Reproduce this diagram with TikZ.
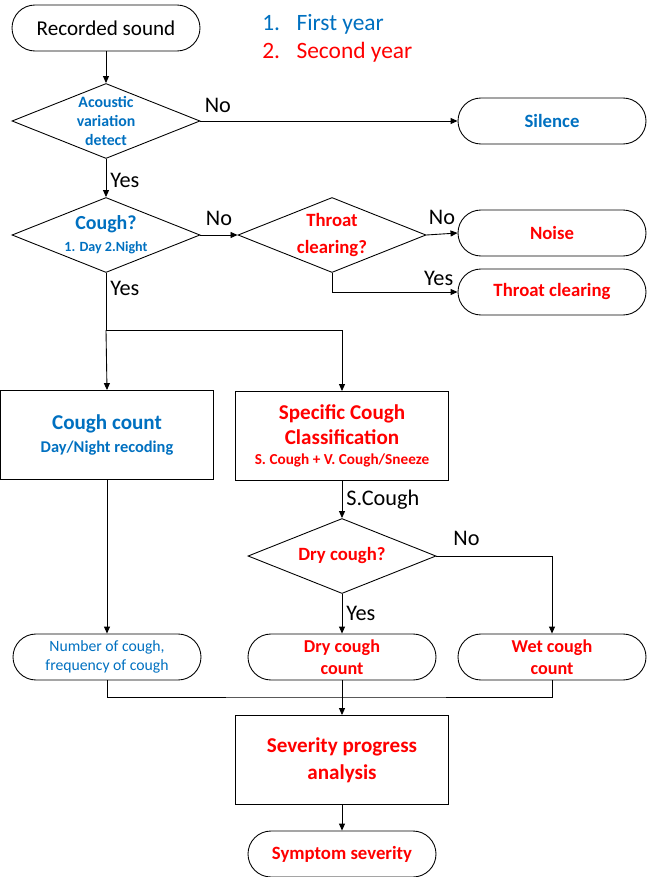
\documentclass[tikz,border=0pt]{standalone}
\usepackage{fontspec}
\setmainfont{Carlito}
\usetikzlibrary{shapes.geometric,arrows.meta}
\definecolor{yrblue}{RGB}{0,112,192}
\definecolor{yrred}{RGB}{255,0,0}
\newcommand{\fsz}[2]{\fontsize{#1}{#2}\selectfont}

\begin{document}
\begin{tikzpicture}[x=0.03cm, y=-0.03cm, line width=0.75pt,
    >={Triangle[length=2.1mm,width=1.8mm]},
    term/.style={draw, rectangle, rounded corners=0.69cm, minimum width=5.64cm, minimum height=1.38cm, align=center, inner sep=1pt},
    decision/.style={draw, diamond, minimum width=5.64cm, minimum height=2.25cm, inner sep=0pt},
    block/.style={draw, rectangle, minimum width=6.4cm, minimum height=2.67cm, align=center},
    lbl/.style={font=\fsz{19}{22}},
    inside/.style={align=center, inner sep=0pt}]
    \useasboundingbox (0,0) rectangle (647,877);

    % legend
    \node[anchor=west, text=yrblue, font=\fsz{20}{24}] (first) at (258,24) {1.\hspace{0.7em}First year};
    \node[anchor=west, text=yrred, font=\fsz{20}{24}] (second) at (258,52) {2.\hspace{0.7em}Second year};

    % boxes
    \node[term, font=\fsz{18}{22}] (rec) at (106,28) {Recorded sound};
    \node[decision, label={[inside, text=yrblue, font=\fsz{13.5}{16}\bfseries]center:Acoustic\\variation\\detect}] (acou) at (106,121) {};
    \node[term, text=yrblue, font=\fsz{16}{19}\bfseries] (sil) at (552,121) {Silence};
    \node[decision, label={[inside, text=yrblue, font=\fsz{17}{22}\bfseries]center:Cough?\\[-3pt]\fsz{12}{14}\bfseries 1. Day 2.Night}] (cough) at (106,235) {};
    \node[decision, label={[inside, text=yrred, font=\fsz{16}{23}\bfseries]center:Throat\\clearing?}] (throat) at (332,235) {};
    \node[term, text=yrred, font=\fsz{16}{19}\bfseries] (noise) at (552,233) {Noise};
    \node[term, text=yrred, font=\fsz{16}{19}\bfseries] (tclr) at (552,292) {Throat clearing};
    \node[block, text=yrblue, font=\fsz{18}{22}\bfseries] (ccount) at (107,435) {Cough count\\[-3pt]\fsz{14}{17}\bfseries Day/Night recoding};
    \node[block, text=yrred, font=\fsz{18}{21}\bfseries] (spec) at (342,436) {Specific Cough\\Classification\\[-4pt]\fsz{13}{17}\bfseries S. Cough + V. Cough/Sneeze};
    \node[decision, label={[inside, text=yrred, font=\fsz{16}{19}\bfseries]center:Dry cough?}] (dry) at (342,556) {};
    \node[term, text=yrblue, font=\fsz{13.4}{16.5}] (num) at (107,657) {Number of cough,\\frequency of cough};
    \node[term, text=yrred, font=\fsz{15.5}{19}\bfseries] (drycnt) at (342,657) {Dry cough\\count};
    \node[term, text=yrred, font=\fsz{15.5}{19}\bfseries] (wetcnt) at (552,657) {Wet cough\\count};
    \node[block, text=yrred, font=\fsz{18}{23}\bfseries] (sev) at (342,760) {Severity progress\\analysis};
    \node[term, text=yrred, font=\fsz{16}{19}\bfseries] (sym) at (342,854) {Symptom severity};

    \coordinate (split) at (106,330);
    \coordinate (merge) at (342,697);

    % connectors
    \draw[->] (rec) -- (acou);
    \draw[->] (acou.east) -- (sil.west) node[lbl, pos=0, anchor=south west, yshift=3pt] {No};
    \draw[->] (acou) -- (cough) node[lbl, midway, right, yshift=-2pt] {Yes};
    \draw[->] (cough.east) -- (throat.west) node[lbl, midway, above, yshift=4pt] {No};
    \draw[->] (throat.east) -- (noise.west) node[lbl, midway, above, yshift=4pt] {No};
    \draw[->] (throat.south) |- (tclr.west) node[lbl, pos=0.925, above, yshift=2pt] {Yes};
    \draw (cough.south) -- (split) node[lbl, pos=0.28, right] {Yes};
    \draw[->] (split) -- (ccount.north);
    \draw[->] (split) -| (spec.north);
    \draw[->] (ccount) -- (num);
    \draw[->] (spec) -- (dry) node[lbl, midway, right] {S.Cough};
    \draw[->] (dry.east) -| (wetcnt.north) node[lbl, pos=0.13, above, yshift=5pt] {No};
    \draw[->] (dry) -- (drycnt) node[lbl, midway, right] {Yes};
    \draw (num.south) |- (merge) -| (wetcnt.south);
    \draw (drycnt) -- (merge);
    \draw[->] (merge) -- (sev);
    \draw[->] (sev) -- (sym);
\end{tikzpicture}
\end{document}
